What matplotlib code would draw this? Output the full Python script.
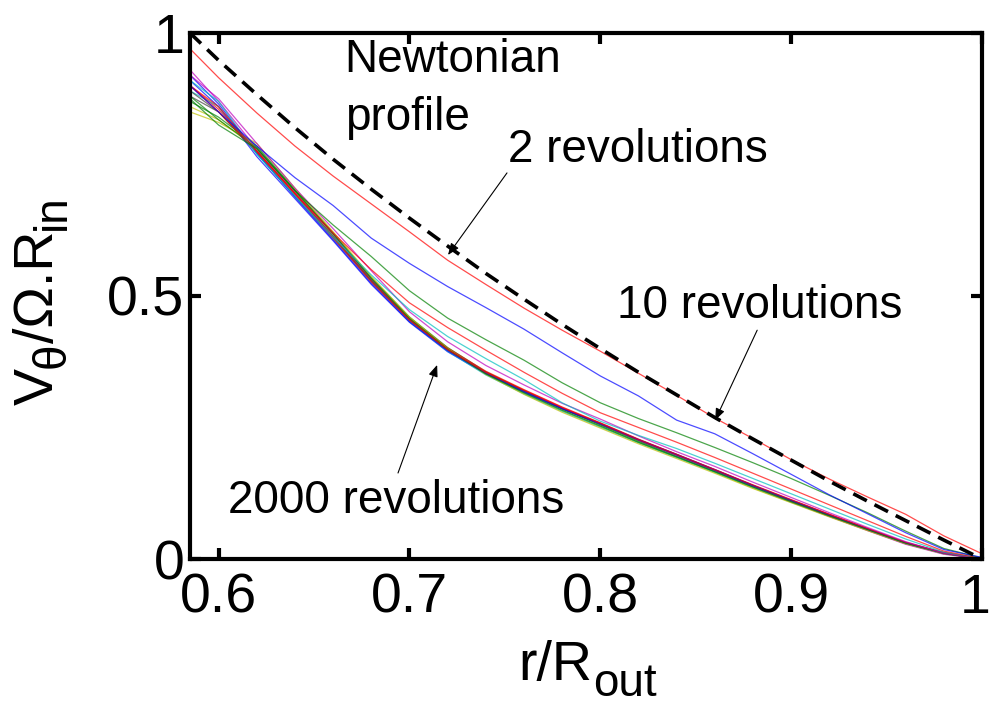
import matplotlib
matplotlib.use("Agg")
import matplotlib.pyplot as plt
from matplotlib.transforms import ScaledTranslation

plt.rcParams['font.family'] = ['Liberation Sans', 'DejaVu Sans']

# ---------------- data ----------------
r = [0.585, 0.60, 0.62, 0.64, 0.66, 0.68, 0.70, 0.72, 0.74, 0.76, 0.78,
     0.80, 0.82, 0.84, 0.86, 0.88, 0.90, 0.92, 0.94, 0.96, 0.98, 1.00]

newtonian = [1.000, 0.948, 0.883, 0.820, 0.760, 0.703, 0.648, 0.595, 0.543, 0.494, 0.446,
             0.400, 0.355, 0.312, 0.269, 0.228, 0.188, 0.148, 0.110, 0.073, 0.036, 0.000]

curve_red1 = [0.970, 0.915, 0.848, 0.785, 0.728, 0.675, 0.622, 0.568, 0.522, 0.477, 0.435,
              0.395, 0.353, 0.311, 0.268, 0.229, 0.189, 0.152, 0.118, 0.085, 0.044, 0.010]
curve_blue = [0.900, 0.850, 0.785, 0.725, 0.672, 0.610, 0.562, 0.518, 0.478, 0.437, 0.392,
              0.348, 0.310, 0.264, 0.238, 0.200, 0.161, 0.122, 0.086, 0.050, 0.018, 0.003]
curve_green = [0.875, 0.825, 0.780, 0.700, 0.635, 0.575, 0.510, 0.458, 0.417, 0.378, 0.335,
               0.297, 0.267, 0.240, 0.212, 0.183, 0.153, 0.121, 0.088, 0.053, 0.020, 0.002]
curve_red2 = [0.900, 0.860, 0.775, 0.695, 0.620, 0.550, 0.487, 0.440, 0.397, 0.355, 0.315,
              0.278, 0.250, 0.222, 0.193, 0.163, 0.133, 0.103, 0.073, 0.043, 0.015, 0.001]
curve_cyan = [0.910, 0.870, 0.770, 0.690, 0.612, 0.540, 0.474, 0.423, 0.381, 0.341, 0.297,
              0.262, 0.235, 0.210, 0.182, 0.153, 0.124, 0.095, 0.066, 0.038, 0.013, 0.001]
curve_mag = [0.920, 0.875, 0.790, 0.705, 0.628, 0.548, 0.470, 0.413, 0.368, 0.331, 0.296,
             0.266, 0.234, 0.204, 0.176, 0.146, 0.117, 0.088, 0.060, 0.033, 0.011, 0.000]

bundle = [
    [0.860, 0.835, 0.780, 0.700, 0.617, 0.533, 0.458, 0.400, 0.352, 0.315, 0.282, 0.252, 0.222, 0.194, 0.165, 0.135, 0.108, 0.081, 0.055, 0.029, 0.010, 0.0],
    [0.880, 0.850, 0.772, 0.690, 0.610, 0.528, 0.455, 0.398, 0.355, 0.320, 0.287, 0.258, 0.227, 0.198, 0.169, 0.139, 0.111, 0.084, 0.057, 0.031, 0.012, 0.0],
    [0.910, 0.860, 0.765, 0.685, 0.605, 0.522, 0.450, 0.394, 0.352, 0.317, 0.285, 0.256, 0.226, 0.197, 0.168, 0.138, 0.110, 0.083, 0.056, 0.030, 0.011, 0.0],
    [0.870, 0.840, 0.785, 0.702, 0.620, 0.535, 0.460, 0.402, 0.356, 0.320, 0.286, 0.255, 0.224, 0.195, 0.166, 0.137, 0.109, 0.082, 0.056, 0.030, 0.011, 0.0],
    [0.900, 0.855, 0.776, 0.696, 0.614, 0.530, 0.457, 0.401, 0.357, 0.322, 0.289, 0.259, 0.228, 0.199, 0.170, 0.140, 0.112, 0.085, 0.058, 0.031, 0.012, 0.0],
    [0.890, 0.860, 0.770, 0.690, 0.612, 0.527, 0.452, 0.395, 0.350, 0.314, 0.281, 0.251, 0.221, 0.193, 0.165, 0.136, 0.108, 0.081, 0.055, 0.029, 0.010, 0.0],
    [0.930, 0.870, 0.780, 0.697, 0.618, 0.532, 0.456, 0.399, 0.354, 0.319, 0.287, 0.257, 0.226, 0.197, 0.168, 0.138, 0.109, 0.081, 0.054, 0.028, 0.009, 0.0],
    [0.850, 0.830, 0.790, 0.705, 0.622, 0.537, 0.460, 0.400, 0.351, 0.313, 0.279, 0.249, 0.219, 0.191, 0.163, 0.134, 0.107, 0.080, 0.054, 0.029, 0.010, 0.0],
    [0.890, 0.850, 0.776, 0.694, 0.613, 0.529, 0.454, 0.397, 0.354, 0.319, 0.286, 0.257, 0.226, 0.198, 0.169, 0.140, 0.111, 0.083, 0.057, 0.031, 0.011, 0.0],
    [0.920, 0.865, 0.772, 0.688, 0.607, 0.524, 0.451, 0.396, 0.353, 0.318, 0.286, 0.257, 0.227, 0.199, 0.170, 0.140, 0.112, 0.084, 0.057, 0.031, 0.011, 0.0],
    [0.880, 0.835, 0.782, 0.700, 0.618, 0.533, 0.457, 0.399, 0.352, 0.316, 0.283, 0.253, 0.222, 0.194, 0.166, 0.137, 0.109, 0.082, 0.056, 0.030, 0.011, 0.0],
    [0.900, 0.850, 0.774, 0.693, 0.611, 0.527, 0.454, 0.398, 0.355, 0.321, 0.288, 0.258, 0.227, 0.199, 0.170, 0.141, 0.113, 0.085, 0.058, 0.032, 0.012, 0.0],
]

xticks = [0.6, 0.7, 0.8, 0.9, 1.0]
xticklabels = ['0.6', '0.7', '0.8', '0.9', '1']
yticks = [0, 0.5, 1]
yticklabels = ['0', '0.5', '1']

# MATLAB classic colour order
C_B = (0, 0, 1)
C_G = (0, 0.5, 0)
C_R = (1, 0, 0)
C_C = (0, 0.75, 0.75)
C_M = (0.75, 0, 0.75)
C_Y = (0.75, 0.75, 0)
C_K = (0.25, 0.25, 0.25)
bundle_colors = [C_Y, C_K, C_B, C_G, C_R, C_C, C_M, C_Y, C_K, C_B, C_G, C_R]

W, H = 990, 708
fig = plt.figure(figsize=(W / 100, H / 100), dpi=100)
ax = fig.add_axes([190 / W, 1 - 559 / H, (982 - 190) / W, (559 - 33) / H])

lw_c = 0.9
alpha_c = 0.7
for ys, col in zip(bundle, bundle_colors):
    ax.plot(r, ys, color=col, lw=lw_c, alpha=alpha_c)
ax.plot(r, curve_mag, color=C_M, lw=lw_c, alpha=alpha_c)
ax.plot(r, curve_cyan, color=C_C, lw=lw_c, alpha=alpha_c)
ax.plot(r, curve_red2, color=C_R, lw=lw_c, alpha=alpha_c)
ax.plot(r, curve_green, color=C_G, lw=lw_c, alpha=alpha_c)
ax.plot(r, curve_blue, color=C_B, lw=lw_c, alpha=alpha_c)
ax.plot(r, curve_red1, color=C_R, lw=lw_c, alpha=alpha_c)

nl, = ax.plot(r, newtonian, color='k', lw=2.6)
nl.set_dashes([4.2, 2.4])

ax.set_xlim(0.585, 1.0)
ax.set_ylim(0, 1)
ax.set_xticks(xticks)
ax.set_xticklabels(xticklabels)
ax.set_yticks(yticks)
ax.set_yticklabels(yticklabels)
ax.tick_params(direction='in', length=8, width=3, labelsize=40,
               top=True, right=True, pad=4)
ax.tick_params(axis='x', pad=10)
for s in ax.spines.values():
    s.set_linewidth(3)

# keep the last x tick label ("1") inside the canvas
last = ax.get_xticklabels()[-1]
last.set_transform(last.get_transform() + ScaledTranslation(-5 / 72, 0, fig.dpi_scale_trans))

# annotations
tfs = 33
ax.text(0.666, 0.926, 'Newtonian', fontsize=tfs, ha='left', va='baseline')
ax.text(0.666, 0.8156, 'profile', fontsize=tfs, ha='left', va='baseline')
ax.text(0.7517, 0.755, '2 revolutions', fontsize=tfs, ha='left', va='baseline')
ax.text(0.8088, 0.458, '10 revolutions', fontsize=tfs, ha='left', va='baseline')
ax.text(0.6049, 0.0875, '2000 revolutions', fontsize=tfs, ha='left', va='baseline')

aprops = dict(arrowstyle='-|>,head_length=0.7,head_width=0.28', color='k', lw=0.8,
              shrinkA=0, shrinkB=0)
ax.annotate('', xy=(0.7202, 0.578), xytext=(0.7511, 0.734), arrowprops=aprops)
ax.annotate('', xy=(0.8602, 0.264), xytext=(0.8822, 0.435), arrowprops=aprops)
ax.annotate('', xy=(0.7145, 0.369), xytext=(0.694, 0.1635), arrowprops=aprops)

# ---- axis labels composed of main text + large subscripts (MATLAB style) ----
renderer = fig.canvas.get_renderer()
main_fs, sub_fs = 40, 33


def px(x, y):
    return x / W, 1 - y / H


# x label: "r/R" + subscript "out"
x_base_y = 680
sub_drop = 16
t1 = fig.text(*px(0, x_base_y), 'r/R', fontsize=main_fs, ha='left', va='baseline')
t2 = fig.text(*px(0, x_base_y + sub_drop), 'out', fontsize=sub_fs, ha='left', va='baseline')
w1 = t1.get_window_extent(renderer).width
x_start = 518
t1.set_position(px(x_start, x_base_y))
t2.set_position(px(x_start + w1 + 1, x_base_y + sub_drop))

# y label: "V" sub "θ" "/Ω.R" sub "in", rotated 90°
pieces = [('V', main_fs, 0), ('θ', sub_fs, 1), ('/Ω.R', main_fs, 0), ('in', sub_fs, 1)]
y_base_x = 53
y_sub_shift = 12
texts = []
total = 0
for s_, fs_, sub in pieces:
    t = fig.text(0, 0, s_, fontsize=fs_, rotation=90, rotation_mode='anchor',
                 ha='left', va='baseline')
    h = t.get_window_extent(renderer).height
    texts.append((t, h, sub))
    total += h
center_y = 300  # pixels from top
cur = (H - center_y) - total / 2  # display y (from bottom) where label starts
for t, h, sub in texts:
    xb = y_base_x + (y_sub_shift if sub else 0)
    t.set_position((xb / W, cur / H))
    cur += h

fig.savefig('out.png', dpi=100)
